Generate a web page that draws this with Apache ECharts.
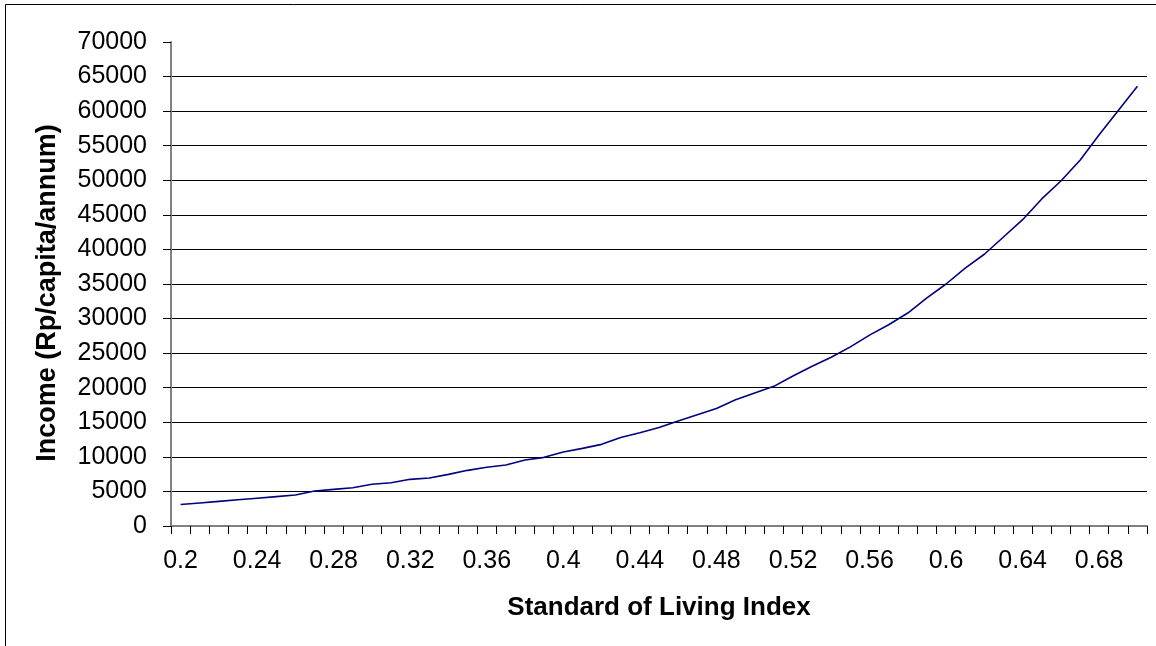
<!DOCTYPE html>
<html>
<head>
<meta charset="utf-8">
<script src="https://cdn.jsdelivr.net/npm/echarts@6/dist/echarts.min.js"></script>
<style>
html,body{margin:0;padding:0;background:#fff;}
#chart{width:1156px;height:646px;}
</style>
</head>
<body>
<div id="chart"></div>
<script>
// Categories: Standard of Living Index
const categories = [
  '0.2','0.21','0.22','0.23','0.24','0.25','0.26','0.27','0.28','0.29',
  '0.3','0.31','0.32','0.33','0.34','0.35','0.36','0.37','0.38','0.39',
  '0.4','0.41','0.42','0.43','0.44','0.45','0.46','0.47','0.48','0.49',
  '0.5','0.51','0.52','0.53','0.54','0.55','0.56','0.57','0.58','0.59',
  '0.6','0.61','0.62','0.63','0.64','0.65','0.66','0.67','0.68','0.69','0.7'
];
// Income (Rp/capita/annum)
const income = [
  3100, 3330, 3560, 3790, 4020, 4250, 4480, 5060, 5300, 5540,
  6030, 6260, 6750, 6940, 7470, 8050, 8490, 8820, 9540, 9930,
  10700, 11230, 11810, 12800, 13500, 14250, 15200, 16100, 17000, 18250,
  19250, 20200, 21700, 23100, 24400, 25900, 27600, 29100, 30800, 33000,
  35000, 37300, 39300, 41800, 44300, 47300, 49900, 52900, 56600, 60100, 63600
];
const yTicks = { min: 0, max: 70000, interval: 5000 };

const chart = echarts.init(document.getElementById('chart'), null, { renderer: 'canvas' });
chart.setOption({
  animation: false,
  backgroundColor: '#ffffff',
  textStyle: { fontFamily: '"Liberation Sans", Arial, sans-serif', color: '#000' },
  graphic: [{
    type: 'rect',
    shape: { x: 5.5, y: 4.5, width: 1300, height: 800 },
    style: { fill: 'none', stroke: '#000', lineWidth: 1 },
    silent: true
  }],
  grid: { left: 171, right: 9, top: 42, bottom: 120, containLabel: false, outerBoundsMode: 'none' },
  xAxis: {
    type: 'category',
    data: categories,
    boundaryGap: true,
    name: 'Standard of Living Index',
    nameLocation: 'middle',
    nameGap: 69,
    nameTextStyle: { fontSize: 26, fontWeight: 'bold', color: '#000', fontFamily: '"Liberation Sans", Arial, sans-serif' },
    axisLine: { show: true, lineStyle: { color: '#808080', width: 2 } },
    axisTick: { show: true, interval: 0, length: 8, inside: false, lineStyle: { color: '#000', width: 1 } },
    axisLabel: { interval: 3, fontSize: 25, color: '#000', margin: 23, fontFamily: '"Liberation Sans", Arial, sans-serif' },
    splitLine: { show: false }
  },
  yAxis: {
    type: 'value',
    min: yTicks.min,
    max: yTicks.max,
    interval: yTicks.interval,
    name: 'Income (Rp/capita/annum)',
    nameLocation: 'middle',
    nameGap: 110,
    nameTextStyle: { fontSize: 27, fontWeight: 'bold', color: '#000', padding: [0, 18, 0, 0], fontFamily: '"Liberation Sans", Arial, sans-serif' },
    axisLine: { show: true, lineStyle: { color: '#808080', width: 2 } },
    axisTick: { show: true, length: 8, inside: false, lineStyle: { color: '#000', width: 1 } },
    axisLabel: { fontSize: 25, color: '#000', margin: 24, formatter: function (v) { return String(v); }, fontFamily: '"Liberation Sans", Arial, sans-serif' },
    splitLine: { show: true, showMaxLine: false, showMinLine: false, lineStyle: { color: '#000', width: 1 } }
  },
  series: [{
    type: 'line',
    data: income,
    symbol: 'none',
    smooth: false,
    lineStyle: { color: '#000080', width: 1.6 },
    itemStyle: { color: '#000080' }
  }]
});
</script>
</body>
</html>
